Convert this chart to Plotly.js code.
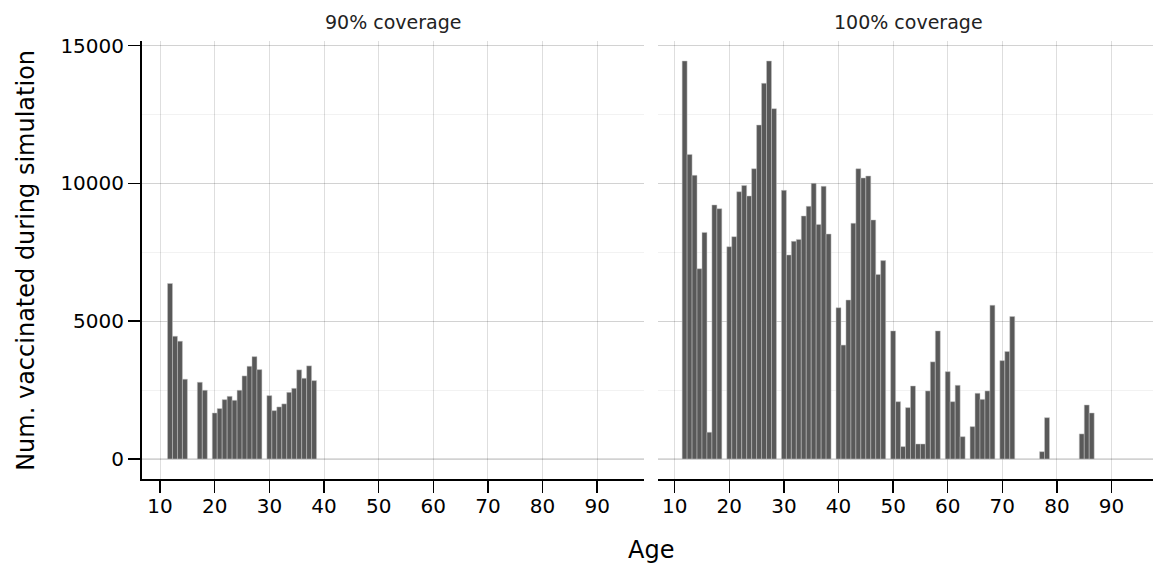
<!DOCTYPE html>
<html>
<head>
<meta charset="utf-8">
<script src="https://cdn.plot.ly/plotly-3.0.1.min.js"></script>
<style>html,body{margin:0;padding:0;background:#fff;}#chart{width:1153px;height:564px;}</style>
</head>
<body>
<div id="chart"></div>
<script>
// ---- data ----
const panelTitles = ["90% coverage", "100% coverage"];
const xTickVals = [10, 20, 30, 40, 50, 60, 70, 80, 90];
const yTickVals = [0, 5000, 10000, 15000];

const ages90 = [12, 13, 14, 15, 18, 19,
  20, 21, 22, 23, 24, 25, 26, 27, 28, 29,
  30, 31, 32, 33, 34, 35, 36, 37, 38, 39];
const counts90 = [6370, 4455, 4275, 2895, 2785, 2495,
  1670, 1830, 2155, 2275, 2130, 2495, 3015, 3365, 3715, 3245,
  2300, 1755, 1890, 2000, 2420, 2565, 3235, 2930, 3380, 2845];

const ages100 = [12, 13, 14, 15, 16, 17, 18, 19,
  20, 21, 22, 23, 24, 25, 26, 27, 28, 29,
  30, 31, 32, 33, 34, 35, 36, 37, 38, 39,
  40, 41, 42, 43, 44, 45, 46, 47, 48, 49,
  50, 51, 52, 53, 54, 55, 56, 57, 58, 59,
  60, 61, 62, 63, 65, 66, 67, 68, 69,
  70, 71, 72, 78, 79, 85, 86, 87];
const counts100 = [14445, 11055, 10295, 6905, 8225, 970, 9220, 9085,
  7705, 8070, 9700, 9930, 9545, 10535, 12120, 13635, 14445, 12715,
  9750, 7405, 7900, 7970, 8820, 9170, 10005, 8515, 9895, 8165,
  5490, 4135, 5770, 8555, 10535, 10200, 10270, 8675, 6700, 7200,
  4650, 2080, 450, 1865, 2650, 545, 545, 2470, 3525, 4650,
  3170, 2080, 2675, 810, 1175, 2385, 2165, 2470, 5580,
  3570, 3900, 5170, 265, 1500, 910, 1960, 1670];

// The reference lays each decade out as 11 equal slots (10 ages + 1 spacer),
// with the first age of the decade sitting on the decade tick.
const SLOT = 10 / 11;
function slotPos(age) { return 10 * Math.floor(age / 10) + (age % 10) * SLOT; }

const barStyle = {color: '#595959', line: {color: '#c4c4c4', width: 0.5}};
const FONT = 'DejaVu Sans, Noto Sans, sans-serif';

const traces = [
  {type: 'bar', x: ages90.map(slotPos), y: counts90, width: SLOT,
   marker: barStyle, xaxis: 'x', yaxis: 'y', showlegend: false, hoverinfo: 'skip'},
  {type: 'bar', x: ages100.map(slotPos), y: counts100, width: SLOT,
   marker: barStyle, xaxis: 'x2', yaxis: 'y2', showlegend: false, hoverinfo: 'skip'}
];

const gridMajor = 'rgba(0,0,0,0.13)';
const gridMinor = 'rgba(0,0,0,0.05)';

function xAxis(domain, range, anchor) {
  return {
    domain: domain, range: range, anchor: anchor,
    tickmode: 'array', tickvals: xTickVals, ticktext: xTickVals.map(String),
    ticks: 'outside', ticklen: 12, tickwidth: 1.5, tickcolor: '#000',
    ticklabelstandoff: -4,
    showline: true, linecolor: '#000', linewidth: 2,
    showgrid: true, gridcolor: gridMajor, gridwidth: 1,
    zeroline: false,
    tickfont: {family: FONT, size: 20, color: '#000'}
  };
}
function yAxis(anchor, labels) {
  return {
    domain: [0, 1], range: [-726, 15171], anchor: anchor,
    tickmode: 'array', tickvals: yTickVals, ticktext: yTickVals.map(String),
    ticks: labels ? 'outside' : '', ticklen: 12, tickwidth: 1.5, tickcolor: '#000',
    showticklabels: labels,
    showline: labels, linecolor: '#000', linewidth: 2,
    showgrid: true, gridcolor: gridMajor, gridwidth: 1.2,
    minor: {dtick: 2500, tick0: 0, showgrid: true, gridcolor: gridMinor, gridwidth: 1, ticks: ''},
    zeroline: false,
    tickfont: {family: FONT, size: 20, color: '#000'}
  };
}

const layout = {
  width: 1153, height: 564,
  margin: {l: 142, r: 0, t: 41, b: 85, pad: 0},
  paper_bgcolor: '#fff', plot_bgcolor: '#fff',
  font: {family: FONT, color: '#000'},
  bargap: 0,
  xaxis: xAxis([0, 0.4968], [6.69, 98.61], 'y'),
  xaxis2: xAxis([0.5101, 1], [6.89, 97.59], 'y2'),
  yaxis: yAxis('x', true),
  yaxis2: yAxis('x2', false),
  annotations: [
    {text: panelTitles[0], xref: 'x domain', yref: 'paper', x: 0.5, y: 1.0445,
     xanchor: 'center', yanchor: 'middle', showarrow: false,
     font: {family: FONT, size: 19, color: '#222'}},
    {text: panelTitles[1], xref: 'x2 domain', yref: 'paper', x: 0.506, y: 1.0445,
     xanchor: 'center', yanchor: 'middle', showarrow: false,
     font: {family: FONT, size: 19, color: '#222'}},
    {text: 'Age', xref: 'paper', yref: 'paper', x: 0.503, y: -0.162,
     xanchor: 'center', yanchor: 'middle', showarrow: false,
     font: {family: FONT, size: 24, color: '#000'}},
    {text: 'Num. vaccinated during simulation', xref: 'paper', yref: 'paper',
     x: -0.1149, y: 0.5, textangle: -90,
     xanchor: 'center', yanchor: 'middle', showarrow: false,
     font: {family: FONT, size: 24, color: '#000'}}
  ]
};

Plotly.newPlot('chart', traces, layout, {staticPlot: true, displayModeBar: false});
</script>
</body>
</html>
